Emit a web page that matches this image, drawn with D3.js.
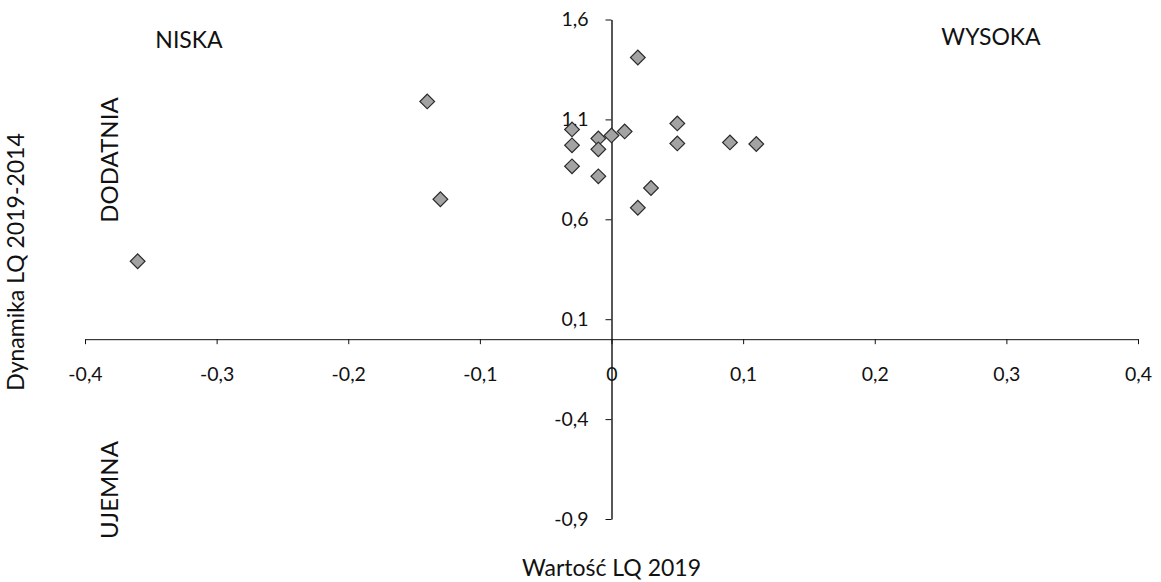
<!DOCTYPE html>
<html><head><meta charset="utf-8">
<script src="https://cdn.jsdelivr.net/npm/d3@7"></script>
<style>body{margin:0;background:#fff}svg text{font-family:Lato,"Open Sans",sans-serif;fill:#111}</style>
</head><body>
<svg id="c" width="1161" height="582"></svg>
<script>
const xValues = [0.02, -0.14, -0.13, -0.36, -0.03, -0.03, -0.03, -0.01, -0.01, -0.01, 0.00, 0.01, 0.05, 0.05, 0.09, 0.11, 0.03, 0.02];
const yValues = [1.41, 1.19, 0.70, 0.39, 1.05, 0.97, 0.865, 1.005, 0.95, 0.815, 1.02, 1.04, 1.08, 0.98, 0.985, 0.977, 0.757, 0.658];
const xTicks = [-0.4, -0.3, -0.2, -0.1, 0, 0.1, 0.2, 0.3, 0.4];
const yTicks = [-0.9, -0.4, 0.1, 0.6, 1.1, 1.6];
const xTitle = "Wartość LQ 2019";
const yTitle = "Dynamika LQ 2019-2014";
const quadrantLabels = ["NISKA", "WYSOKA", "DODATNIA", "UJEMNA"];

const svg = d3.select("#c");
const x = d3.scaleLinear().domain([-0.4, 0.4]).range([85, 1138]);
const y = d3.scaleLinear().domain([-0.9, 1.6]).range([519, 19.5]);
const fmt = v => v === 0 ? "0" : d3.format(".1f")(v).replace(".", ",").replace("−", "-");

// x axis at y=0
const xa = svg.append("g").attr("transform", `translate(0,${y(0)})`)
  .call(d3.axisBottom(x).tickValues(xTicks).tickSize(5).tickSizeOuter(0).tickFormat(fmt));
xa.select(".domain").attr("stroke", "#111");
xa.selectAll(".tick line").attr("stroke", "#111");
xa.selectAll(".tick text").attr("font-size", 19.5).attr("dy", "0").attr("y", 42);

// y axis at x=0
const ya = svg.append("g").attr("transform", `translate(${x(0)},0)`)
  .call(d3.axisLeft(y).tickValues(yTicks).tickSize(6).tickSizeOuter(0).tickFormat(fmt));
ya.select(".domain").attr("stroke", "#111").attr("stroke-width", 1.4);
ya.selectAll(".tick line").attr("stroke", "#111");
ya.selectAll(".tick text").attr("font-size", 19.5).attr("x", -23);

// points
const sym = d3.symbol().type(d3.symbolSquare).size(108);
svg.append("g").selectAll("path").data(xValues.map((v, i) => [v, yValues[i]])).join("path")
  .attr("d", sym)
  .attr("transform", d => `translate(${x(d[0])},${y(d[1])}) rotate(45)`)
  .attr("fill", "#a3a3a3").attr("stroke", "#2a2a2a").attr("stroke-width", 1.2);

// titles
svg.append("text").attr("x", x(0)).attr("y", 576).attr("text-anchor", "middle").attr("font-size", 23).text(xTitle);
svg.append("text").attr("transform", "translate(24,262) rotate(-90)").attr("text-anchor", "middle").attr("font-size", 23).text(yTitle);

// quadrant labels
svg.append("text").attr("x", 189).attr("y", 48).attr("text-anchor", "middle").attr("font-size", 23).text(quadrantLabels[0]);
svg.append("text").attr("x", 991).attr("y", 45).attr("text-anchor", "middle").attr("font-size", 23).text(quadrantLabels[1]);
svg.append("text").attr("transform", "translate(118,160) rotate(-90)").attr("text-anchor", "middle").attr("font-size", 24).text(quadrantLabels[2]);
svg.append("text").attr("transform", "translate(118,490) rotate(-90)").attr("text-anchor", "middle").attr("font-size", 24).text(quadrantLabels[3]);
</script>
</body></html>
